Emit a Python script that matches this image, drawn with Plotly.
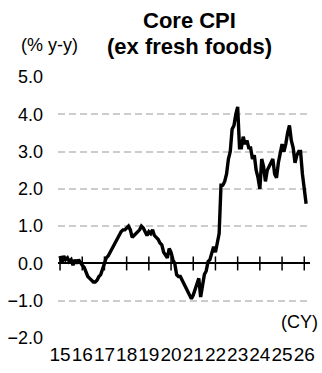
import plotly.graph_objects as go

# Monthly core CPI (ex fresh foods), % y-y, Jan 2015 .. Feb 2026
cpi_2015 = [0.2, 0.0, 0.2, 0.1, 0.15, 0.05, 0.1, -0.05, 0.1, 0.0, 0.1, 0.0]
cpi_2016 = [-0.05, -0.1, -0.25, -0.35, -0.4, -0.45, -0.5, -0.5, -0.45, -0.35, -0.3, -0.15]
cpi_2017 = [0.0, 0.15, 0.2, 0.3, 0.4, 0.45, 0.55, 0.7, 0.75, 0.85, 0.9, 0.9]
cpi_2018 = [0.95, 1.0, 0.9, 0.7, 0.75, 0.8, 0.85, 0.9, 1.0, 0.95, 0.85, 0.75]
cpi_2019 = [0.85, 0.8, 0.9, 0.75, 0.7, 0.65, 0.55, 0.5, 0.3, 0.2, 0.15, 0.4]
cpi_2020 = [0.3, 0.1, 0.0, -0.3, -0.35, -0.35, -0.45, -0.55, -0.65, -0.75, -0.85, -0.95]
cpi_2021 = [-0.85, -0.7, -0.5, -0.4, -0.9, -0.6, -0.3, -0.2, 0.05, 0.1, 0.25, 0.45]
cpi_2022 = [0.3, 0.55, 0.8, 2.1, 2.1, 2.2, 2.4, 2.8, 3.0, 3.6, 3.7, 4.0]
cpi_2023 = [4.2, 3.1, 3.1, 3.4, 3.2, 3.3, 3.1, 3.1, 2.8, 2.9, 2.5, 2.3]
cpi_2024 = [2.0, 2.8, 2.6, 2.2, 2.5, 2.6, 2.7, 2.8, 2.4, 2.3, 2.7, 3.0]
cpi_2025 = [3.2, 3.0, 3.2, 3.5, 3.7, 3.3, 3.1, 2.7, 2.9, 3.0, 3.0, 2.4]
cpi_2026 = [2.0, 1.6]

values = (cpi_2015 + cpi_2016 + cpi_2017 + cpi_2018 + cpi_2019 + cpi_2020
          + cpi_2021 + cpi_2022 + cpi_2023 + cpi_2024 + cpi_2025 + cpi_2026)
months = list(range(len(values)))

year_labels = ["15", "16", "17", "18", "19", "20", "21", "22", "23", "24", "25", "26"]
year_ticks = [12 * i for i in range(len(year_labels))]
y_ticks = [-2, -1, 0, 1, 2, 3, 4, 5]

FONT = "Liberation Sans, Arial, sans-serif"

W, H = 322, 373
l, r, t, b = 58, 12, 77, 35
pw, ph = W - l - r, H - t - b


def px_ann(text, px, py, size, **kw):
    return dict(text=text, xref="paper", yref="paper",
                x=(px - l) / pw, y=(H - b - py) / ph,
                xanchor="center", yanchor="middle", showarrow=False,
                font=dict(size=size), **kw)


fig = go.Figure()

# tick marks on the zero line
fig.add_trace(go.Scatter(
    x=year_ticks, y=[0] * len(year_ticks), mode="markers",
    marker=dict(symbol="line-ns-open", size=10, color="black",
                line=dict(color="black", width=1.5)),
    hoverinfo="skip", showlegend=False,
))

fig.add_trace(go.Scatter(
    x=months, y=values, mode="lines",
    line=dict(color="black", width=3.4),
    showlegend=False,
))

fig.update_layout(
    width=W, height=H,
    margin=dict(l=l, r=r, t=t, b=b, autoexpand=False),
    paper_bgcolor="white", plot_bgcolor="white",
    font=dict(family=FONT, color="black"),
    xaxis=dict(
        range=[-1.1, 135.1],
        tickmode="array", tickvals=year_ticks, ticktext=year_labels,
        tickfont=dict(size=19), tickangle=0, ticks="", showgrid=False,
        zeroline=False, showline=False, ticklabelstandoff=3, automargin=False,
    ),
    yaxis=dict(
        range=[-2, 5], tickmode="array", tickvals=y_ticks, tickformat=".1f",
        tickfont=dict(size=18), ticks="", showgrid=True,
        gridcolor="#cccccc", gridwidth=1.5, griddash="7px,4px",
        zeroline=True, zerolinecolor="black", zerolinewidth=1.5,
        showline=False, ticklabelstandoff=14, automargin=False,
    ),
    annotations=[
        px_ann("<b>Core CPI</b>", 189, 21, 22),
        px_ann("<b>(ex fresh foods)</b>", 189, 47, 22),
        px_ann("(% y-y)", 49, 45, 18),
        px_ann("(CY)", 299, 322, 18),
    ],
)

fig.write_html("out.html")
